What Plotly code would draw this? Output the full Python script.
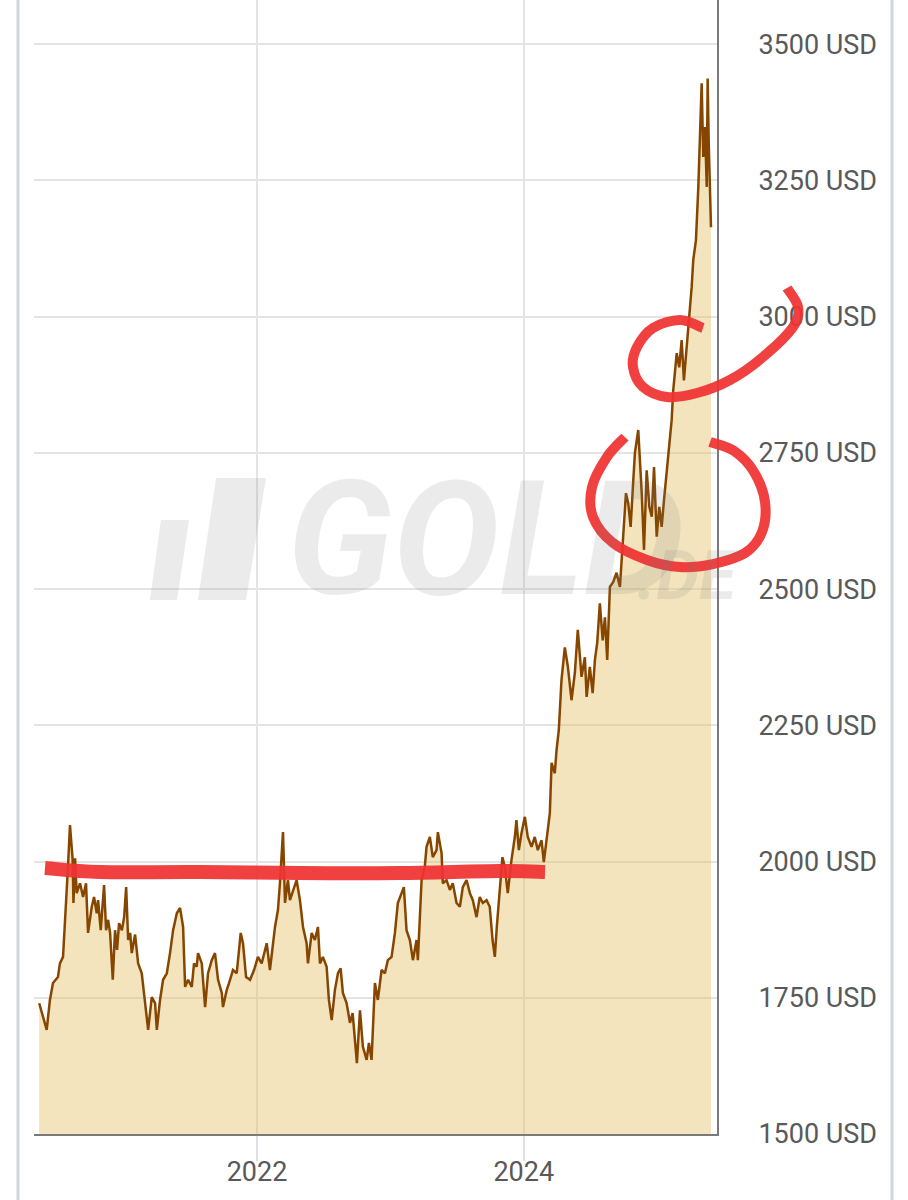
import pandas as pd
import plotly.graph_objects as go

# gold price in USD (decimal year, price)
years = [
    2020.369, 2020.425, 2020.449, 2020.472, 2020.509, 2020.524, 2020.547, 2020.569, 2020.584, 2020.599,
    2020.619, 2020.625, 2020.637, 2020.649, 2020.674, 2020.697, 2020.719, 2020.734, 2020.762, 2020.779,
    2020.799, 2020.809, 2020.829, 2020.854, 2020.869, 2020.884, 2020.899, 2020.919, 2020.936, 2020.951,
    2020.966, 2020.987, 2021.004, 2021.019, 2021.034, 2021.049, 2021.061, 2021.086, 2021.109, 2021.136,
    2021.161, 2021.184, 2021.211, 2021.236, 2021.249, 2021.273, 2021.296, 2021.324, 2021.348, 2021.371,
    2021.399, 2021.423, 2021.446, 2021.461, 2021.483, 2021.511, 2021.528, 2021.548, 2021.558, 2021.586,
    2021.611, 2021.633, 2021.661, 2021.685, 2021.708, 2021.736, 2021.745, 2021.773, 2021.798, 2021.820,
    2021.848, 2021.878, 2021.895, 2021.918, 2021.948, 2021.978, 2022.007, 2022.035, 2022.073, 2022.097,
    2022.135, 2022.157, 2022.172, 2022.195, 2022.210, 2022.232, 2022.247, 2022.270, 2022.297, 2022.322,
    2022.345, 2022.372, 2022.382, 2022.410, 2022.434, 2022.457, 2022.472, 2022.494, 2022.522, 2022.539,
    2022.560, 2022.584, 2022.607, 2022.627, 2022.644, 2022.672, 2022.697, 2022.717, 2022.734, 2022.749,
    2022.772, 2022.794, 2022.822, 2022.839, 2022.859, 2022.884, 2022.906, 2022.934, 2022.959, 2022.981,
    2023.009, 2023.034, 2023.056, 2023.084, 2023.101, 2023.121, 2023.146, 2023.169, 2023.196, 2023.206,
    2023.234, 2023.258, 2023.271, 2023.296, 2023.318, 2023.346, 2023.356, 2023.384, 2023.393, 2023.421,
    2023.446, 2023.468, 2023.496, 2023.521, 2023.543, 2023.571, 2023.596, 2023.618, 2023.646, 2023.670,
    2023.693, 2023.721, 2023.745, 2023.766, 2023.783, 2023.798, 2023.820, 2023.840, 2023.858, 2023.880,
    2023.908, 2023.933, 2023.945, 2023.963, 2023.983, 2024.008, 2024.030, 2024.058, 2024.082, 2024.105,
    2024.133, 2024.150, 2024.170, 2024.195, 2024.208, 2024.232, 2024.245, 2024.262, 2024.282, 2024.307,
    2024.330, 2024.357, 2024.382, 2024.404, 2024.432, 2024.457, 2024.470, 2024.494, 2024.515, 2024.532,
    2024.549, 2024.569, 2024.590, 2024.607, 2024.624, 2024.644, 2024.669, 2024.694, 2024.719, 2024.744,
    2024.764, 2024.781, 2024.799, 2024.819, 2024.831, 2024.856, 2024.869, 2024.882, 2024.899, 2024.919,
    2024.939, 2024.957, 2024.974, 2024.994, 2025.013, 2025.031, 2025.049, 2025.069, 2025.088, 2025.106,
    2025.118, 2025.144, 2025.163, 2025.181, 2025.198, 2025.219, 2025.243, 2025.256, 2025.268, 2025.288,
    2025.306, 2025.318, 2025.331, 2025.343, 2025.356, 2025.369, 2025.376, 2025.384, 2025.393, 2025.401,
]
prices = [
    1740, 1691, 1746, 1777, 1788, 1813, 1825, 1911, 1990, 2067,
    2003, 1924, 2006, 1942, 1960, 1935, 1960, 1869, 1917, 1935,
    1905, 1929, 1874, 1957, 1874, 1893, 1869, 1783, 1874, 1838,
    1887, 1874, 1898, 1953, 1856, 1869, 1832, 1866, 1813, 1795,
    1746, 1691, 1751, 1740, 1691, 1746, 1783, 1795, 1832, 1874,
    1905, 1915, 1880, 1770, 1783, 1770, 1813, 1807, 1832, 1813,
    1733, 1795, 1819, 1832, 1783, 1759, 1733, 1764, 1783, 1801,
    1795, 1869, 1850, 1788, 1783, 1801, 1825, 1813, 1850, 1801,
    1880, 1911, 1960, 2054, 1924, 1966, 1929, 1948, 1966, 1929,
    1880, 1850, 1813, 1869, 1856, 1880, 1813, 1825, 1807, 1746,
    1709, 1764, 1795, 1804, 1759, 1740, 1704, 1722, 1672, 1630,
    1727, 1660, 1636, 1667, 1636, 1777, 1746, 1801, 1795, 1819,
    1825, 1869, 1924, 1942, 1953, 1874, 1856, 1819, 1856, 1819,
    1966, 1990, 2027, 2045, 2008, 2021, 2054, 2015, 1960, 1966,
    1948, 1960, 1924, 1917, 1953, 1966, 1942, 1929, 1898, 1935,
    1924, 1929, 1917, 1856, 1825, 1880, 1953, 2008, 1990, 1942,
    2003, 2045, 2076, 2021, 2052, 2082, 2045, 2027, 2045, 2021,
    2039, 1999, 2039, 2089, 2181, 2162, 2204, 2241, 2333, 2393,
    2357, 2296, 2346, 2425, 2339, 2375, 2302, 2357, 2309, 2370,
    2401, 2474, 2406, 2448, 2370, 2504, 2513, 2530, 2504, 2590,
    2676, 2658, 2614, 2700, 2750, 2792, 2737, 2676, 2572, 2718,
    2651, 2633, 2724, 2596, 2651, 2614, 2664, 2718, 2773, 2810,
    2865, 2933, 2907, 2957, 2883, 2944, 3030, 3054, 3104, 3140,
    3238, 3348, 3428, 3293, 3348, 3238, 3437, 3318, 3245, 3164,
]

y_ticks = [1500, 1750, 2000, 2250, 2500, 2750, 3000, 3250, 3500]
y_tick_labels = [f"{v} USD" for v in y_ticks]
x_ticks = ["2022-01-01", "2024-01-01"]
x_tick_labels = ["2022", "2024"]


def yr_to_date(y):
    yr = int(y)
    start = pd.Timestamp(year=yr, month=1, day=1)
    end = pd.Timestamp(year=yr + 1, month=1, day=1)
    return start + (end - start) * (y - yr)


dates = [yr_to_date(y) for y in years]

# plot area in pixels: left 34, right 717, top 0, bottom 1134
L, R, B = 34, 717, 1134


def px(x, y):
    return (x - L) / (R - L), (B - y) / B


def smooth_path(points):
    p = [px(*q) for q in points]
    d = "M%.4f,%.4f" % p[0]
    for i in range(len(p) - 1):
        p0 = p[i - 1] if i > 0 else p[i]
        p1, p2 = p[i], p[i + 1]
        p3 = p[i + 2] if i + 2 < len(p) else p[i + 1]
        c1 = (p1[0] + (p2[0] - p0[0]) / 6, p1[1] + (p2[1] - p0[1]) / 6)
        c2 = (p2[0] - (p3[0] - p1[0]) / 6, p2[1] - (p3[1] - p1[1]) / 6)
        d += " C%.4f,%.4f %.4f,%.4f %.4f,%.4f" % (c1 + c2 + p2)
    return d


def poly_path(points):
    p = [px(*q) for q in points]
    return "M" + " L".join("%.4f,%.4f" % q for q in p) + " Z"


# hand drawn red marks
red_line = [(45, 868), (100, 872), (200, 872), (300, 873), (400, 873), (500, 871), (545, 872)]
red_upper = [(703, 328), (680, 320), (653, 328), (637, 347), (633, 367), (643, 387), (667, 397),
             (697, 393), (730, 380), (763, 357), (793, 327), (798, 307), (787, 288)]
red_lower = [(625, 437), (607, 457), (592, 487), (593, 517), (613, 543), (647, 560), (680, 567),
             (713, 564), (745, 553), (762, 532), (765, 502), (754, 472), (734, 451), (710, 442)]

fig = go.Figure()
fig.add_trace(go.Scatter(
    x=dates, y=prices, mode="lines",
    line=dict(color="#874600", width=2.5),
    fill="tozeroy", fillcolor="rgba(225,188,93,0.4)",
    hoverinfo="skip",
))

red = "rgba(239,50,50,0.93)"
shapes = [
    dict(type="path", path=smooth_path(red_line), line=dict(color=red, width=14)),
    dict(type="path", path=smooth_path(red_upper), line=dict(color=red, width=10)),
    dict(type="path", path=smooth_path(red_lower), line=dict(color=red, width=10)),
]
for s in shapes:
    s.update(xref="paper", yref="paper")

# watermark bars
wm = "rgba(120,120,120,0.15)"
for bar in ([(150, 600), (161, 520), (189, 520), (177, 600)],
            [(198, 600), (216, 478), (266, 478), (246, 600)]):
    shapes.append(dict(type="path", path=poly_path(bar), xref="paper", yref="paper",
                       fillcolor=wm, line=dict(width=0), layer="above"))

# outer frame lines
for xp in (18, 892):
    x0, _ = px(xp, 0)
    shapes.append(dict(type="line", xref="paper", yref="paper", x0=x0, x1=x0, y0=-0.06, y1=1.0,
                       line=dict(color="#cfd5dc", width=3)))

wx, wy = px(486, 539)
dx, dy = px(742, 576)
fig.update_layout(
    template="none",
    width=908, height=1200,
    margin=dict(l=L, r=908 - R, t=0, b=1200 - B),
    paper_bgcolor="white", plot_bgcolor="white",
    showlegend=False,
    shapes=shapes,
    annotations=[
        dict(text="<b><i>GOLD</i></b>", x=wx, y=wy, xref="paper", yref="paper",
             showarrow=False, font=dict(family="Roboto", size=160, color=wm)),
        dict(text="<b><i>.DE</i></b>", x=dx, y=dy, xref="paper", yref="paper",
             showarrow=False, font=dict(family="Roboto", size=68, color=wm)),
    ],
    xaxis=dict(
        type="date",
        range=[yr_to_date(2020.330), yr_to_date(2025.446)],
        tickvals=x_ticks, ticktext=x_tick_labels,
        showgrid=True, gridcolor="#e4e4e4", gridwidth=2,
        ticks="outside", ticklen=25, tickwidth=2, tickcolor="#dde1e5",
        ticklabelstandoff=-12,
        showline=True, linecolor="#7a7a7a", linewidth=2,
        zeroline=False,
        tickfont=dict(family="Roboto", size=27, color="#595959"),
    ),
    yaxis=dict(
        range=[1500, 3581],
        side="right",
        tickvals=y_ticks, ticktext=y_tick_labels,
        showgrid=True, gridcolor="#e4e4e4", gridwidth=2,
        ticks="", ticklabelstandoff=34,
        showline=True, linecolor="#7a7a7a", linewidth=2,
        zeroline=False,
        tickfont=dict(family="Roboto", size=27, color="#595959"),
    ),
)

fig.write_html("out.html", config={"displayModeBar": False},
               post_script="document.body.style.margin='0';")
